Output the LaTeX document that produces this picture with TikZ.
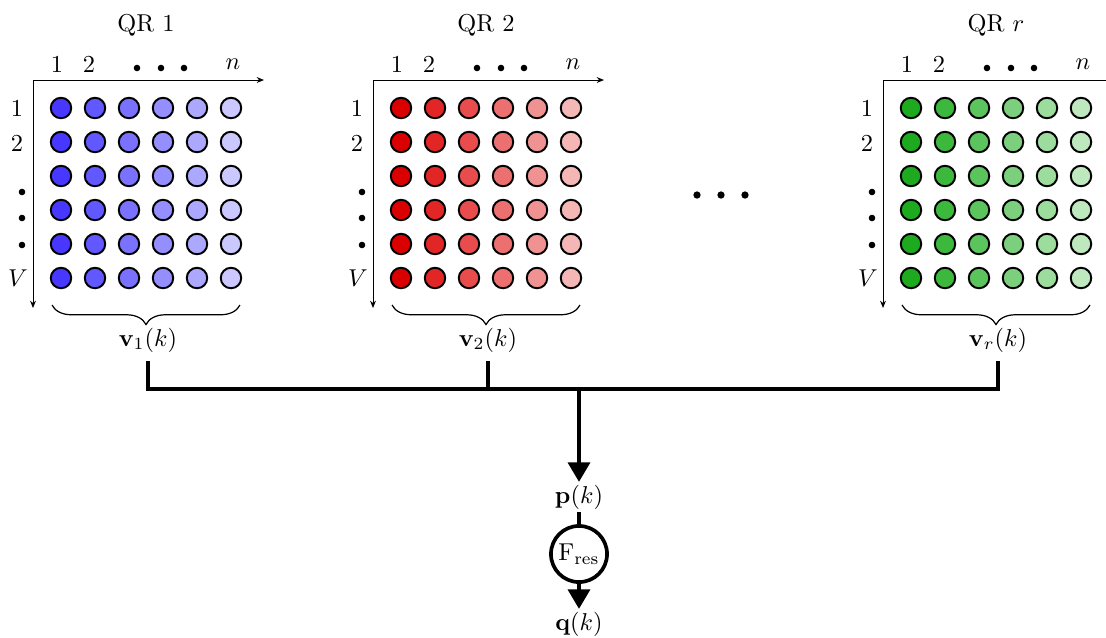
\documentclass[tikz,border=0pt]{standalone}
\usetikzlibrary{arrows.meta,decorations.pathreplacing}

% shades for the three quantisers, darkest column first
\definecolor{b1}{RGB}{72,56,255}
\definecolor{b2}{RGB}{98,88,255}
\definecolor{b3}{RGB}{122,114,255}
\definecolor{b4}{RGB}{148,142,255}
\definecolor{b5}{RGB}{172,168,255}
\definecolor{b6}{RGB}{202,200,255}
\definecolor{r1}{RGB}{218,0,0}
\definecolor{r2}{RGB}{226,38,38}
\definecolor{r3}{RGB}{232,76,76}
\definecolor{r4}{RGB}{236,112,112}
\definecolor{r5}{RGB}{240,146,146}
\definecolor{r6}{RGB}{245,182,182}
\definecolor{g1}{RGB}{30,170,30}
\definecolor{g2}{RGB}{60,184,60}
\definecolor{g3}{RGB}{92,196,92}
\definecolor{g4}{RGB}{124,207,124}
\definecolor{g5}{RGB}{156,220,156}
\definecolor{g6}{RGB}{190,232,190}

\tikzset{
  cell/.style={circle, draw=black, line width=0.8pt, minimum size=8.4pt, inner sep=0pt},
  pt/.style={circle, fill=black, minimum size=2.7pt, inner sep=0pt},
  axis/.style={line width=0.4pt},
  bus/.style={line width=1.5pt},
  arr/.style={line width=1.5pt, -{Triangle[width=9pt,length=8pt]}},
  fres/.style={circle, draw=black, line width=1.5pt, minimum size=23pt, inner sep=0pt},
  sig/.style={inner sep=1pt},
}

\begin{document}
\begin{tikzpicture}[x=0.41pt, y=-0.41pt]
\useasboundingbox (0,0) rectangle (1106,637);

\foreach \k/\off/\c/\qr/\vs in {1/0/b/1/1, 2/340/r/2/2, 3/850/g/$r$/r} {
  \begin{scope}[shift={(\off,0)}]
    \node (qr\k) at (146,25) {QR \qr};
    % index axes
    \coordinate (o\k) at (33,80);
    \coordinate (xe\k) at (264,80);
    \coordinate (ye\k) at (33,308);
    \draw[axis, {Stealth[length=3pt,width=2.4pt]}-{Stealth[length=3pt,width=2.4pt]}] (xe\k) -- (o\k) -- (ye\k);
    % column indices
    \node (c1\k) at (57,64) {1};
    \node (c2\k) at (89,64) {2};
    \node[pt] (cd1\k) at (137,68) {};
    \node[pt] (cd2\k) at (161,68) {};
    \node[pt] (cd3\k) at (184,68) {};
    \node (cn\k) at (233,64) {$n$};
    % row indices
    \node (r1\k) at (17,108) {1};
    \node (r2\k) at (17,143) {2};
    \node[pt] (rd1\k) at (22,192) {};
    \node[pt] (rd2\k) at (22,218) {};
    \node[pt] (rd3\k) at (22,245) {};
    \node (rv\k) at (18,278) {$V$};
    % cells
    \foreach \i in {1,...,6} {
      \foreach \j in {1,...,6} {
        \node[cell, fill=\c\j] (m\k-\i-\j) at ({27+34*\j},{74+34*\i}) {};
      }
    }
    % brace and vector label
    \coordinate (bl\k) at (52,305);
    \coordinate (br\k) at (240,305);
    \draw[line width=0.5pt, decorate, decoration={brace, mirror, amplitude=8pt}] (bl\k) -- (br\k);
    \node (v\k) at (148,340) {$\mathbf{v}_{\vs}(k)$};
  \end{scope}
}

% ellipsis between the quantisers
\node[pt, minimum size=3pt] (e1) at (697,195) {};
\node[pt, minimum size=3pt] (e2) at (721,195) {};
\node[pt, minimum size=3pt] (e3) at (745,195) {};

% combining bus
\coordinate (join) at (579,389);
\draw[bus] (v1.south) |- (join) -| (v3.south);
\draw[bus] (v2.south) -- (v2.south |- join);

% residual stage
\node[sig] (p) at (579,497) {$\mathbf{p}(k)$};
\node[fres] (f) at (579,554) {$\mathrm{F}_{\mathrm{res}}$};
\node[sig] (q) at (579,624) {$\mathbf{q}(k)$};
\draw[arr] (join) -- (p.north);
\draw[bus] (p.south) -- (f.north);
\draw[arr] (f.south) -- (q.north);
\end{tikzpicture}
\end{document}
